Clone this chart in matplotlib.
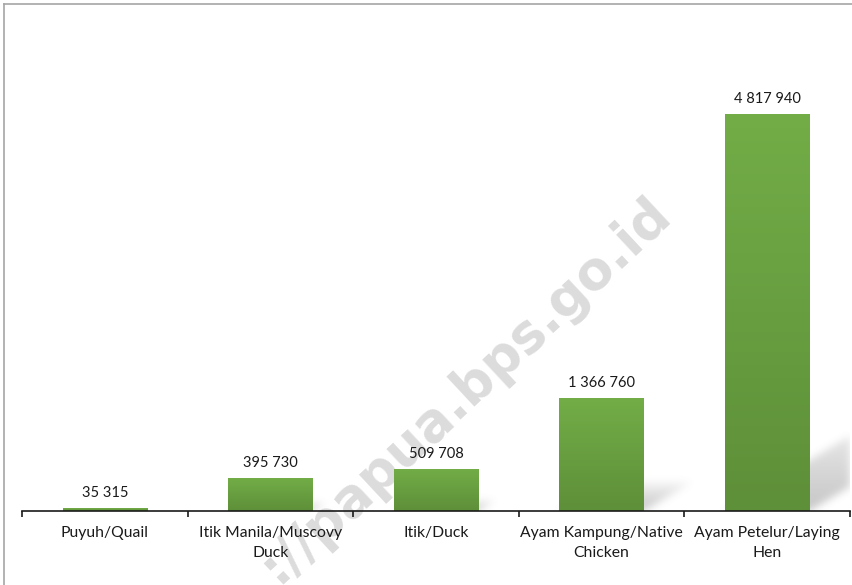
import numpy as np
import matplotlib.pyplot as plt
from matplotlib.patches import Rectangle
from matplotlib.lines import Line2D

categories = ["Puyuh/Quail", "Itik Manila/Muscovy\nDuck", "Itik/Duck",
              "Ayam Kampung/Native\nChicken", "Ayam Petelur/Laying\nHen"]
values = [35315, 395730, 509708, 1366760, 4817940]
value_labels = ["35 315", "395 730", "509 708", "1 366 760", "4 817 940"]

W, H, DPI = 852, 585, 100
fig = plt.figure(figsize=(W / DPI, H / DPI), dpi=DPI)
fig.patch.set_facecolor("white")

# axes placed in pixels: baseline at y=511, top at y=30
ax_l, ax_r, ax_b, ax_t = 22, 850, 511, 30
ax = fig.add_axes([ax_l / W, (H - ax_b) / H, (ax_r - ax_l) / W, (ax_b - ax_t) / H])
ax.patch.set_visible(False)

px_per_unit = 397 / 4817940
ymax = (ax_b - ax_t) / px_per_unit
ax.set_xlim(-0.5, len(values) - 0.5)
ax.set_ylim(0, ymax)

bar_w = 0.51
x = np.arange(len(values))

# soft cast shadows behind the bars, built on the axes pixel grid
nx, ny = ax_r - ax_l, ax_b - ax_t
gx = np.arange(nx) + 0.5
gy = np.arange(ny)[::-1] + 0.5          # height above baseline, top row first
GX, GY = np.meshgrid(gx, gy)
shade = np.zeros((ny, nx))
sx = nx / len(values)
for xi, v in zip(x, values):
    h = v * px_per_unit
    sh, dx = 0.27 * h, 0.45 * h
    if sh < 1:
        continue
    x0 = (xi + 0.5 - bar_w / 2) * sx
    x1 = (xi + 0.5 + bar_w / 2) * sx
    off = GY * dx / sh
    inside = (GY <= sh) & (GX >= x0 + off) & (GX <= x1 + off)
    a = np.where(inside, 0.34 * (1 - GY / sh) ** 0.7, 0)
    shade = np.maximum(shade, a)

def blur(img, sigma):
    r = int(3 * sigma)
    k = np.exp(-0.5 * (np.arange(-r, r + 1) / sigma) ** 2)
    k /= k.sum()
    img = np.apply_along_axis(lambda m: np.convolve(m, k, mode="same"), 0, img)
    img = np.apply_along_axis(lambda m: np.convolve(m, k, mode="same"), 1, img)
    return img

shade = blur(shade, 4)
rgba = np.zeros((ny, nx, 4))
rgba[..., :3] = 0.35
rgba[..., 3] = shade
ax.imshow(rgba, extent=(-0.5, len(values) - 0.5, 0, ymax), aspect="auto",
          zorder=1, interpolation="bilinear")

# bars with a vertical green gradient
top_c = np.array([114, 173, 71]) / 255
bot_c = np.array([94, 143, 57]) / 255
grad = np.linspace(0, 1, 256)[:, None, None]
grad_img = top_c * (1 - grad) + bot_c * grad
for xi, v, lab in zip(x, values, value_labels):
    rect = Rectangle((xi - bar_w / 2, 0), bar_w, v, facecolor="none",
                     edgecolor="none", zorder=2)
    ax.add_patch(rect)
    im = ax.imshow(grad_img, extent=(xi - bar_w / 2, xi + bar_w / 2, 0, v),
                   aspect="auto", zorder=2)
    im.set_clip_path(rect)
    ax.annotate(lab, (xi, v), xytext=(0, 6), textcoords="offset points",
                ha="center", va="bottom", fontsize=10.5, family="Lato",
                color="#1a1a1a")

ax.set_xlim(-0.5, len(values) - 0.5)
ax.set_ylim(0, ymax)

for s in ["top", "right", "left"]:
    ax.spines[s].set_visible(False)
ax.spines["bottom"].set_color("#1a1a1a")
ax.spines["bottom"].set_linewidth(1.2)
ax.set_yticks([])
ax.set_xticks(x)
ax.set_xticklabels(categories, family="Lato", fontsize=11.3, color="#1a1a1a",
                   linespacing=1.5)
ax.tick_params(axis="x", which="major", length=0, pad=11)
ax.set_xticks(np.arange(len(values) + 1) - 0.5, minor=True)
ax.tick_params(axis="x", which="minor", length=4, width=1.2, color="#1a1a1a")

# watermark behind the plot
fig.text(465 / W, 1 - 390 / H, "://papua.bps.go.id", rotation=43,
         ha="center", va="center", fontsize=38, fontweight="bold",
         color="#dcdcdc", family="DejaVu Sans", zorder=-1)

# thin frame along the top and left
fig.add_artist(Line2D([3.5 / W, 1], [1 - 3.5 / H, 1 - 3.5 / H],
                      color="#a6a6a6", lw=1.2))
fig.add_artist(Line2D([3.5 / W, 3.5 / W], [0, 1 - 3.5 / H],
                      color="#a6a6a6", lw=1.2))

fig.savefig("out.png", dpi=DPI)
